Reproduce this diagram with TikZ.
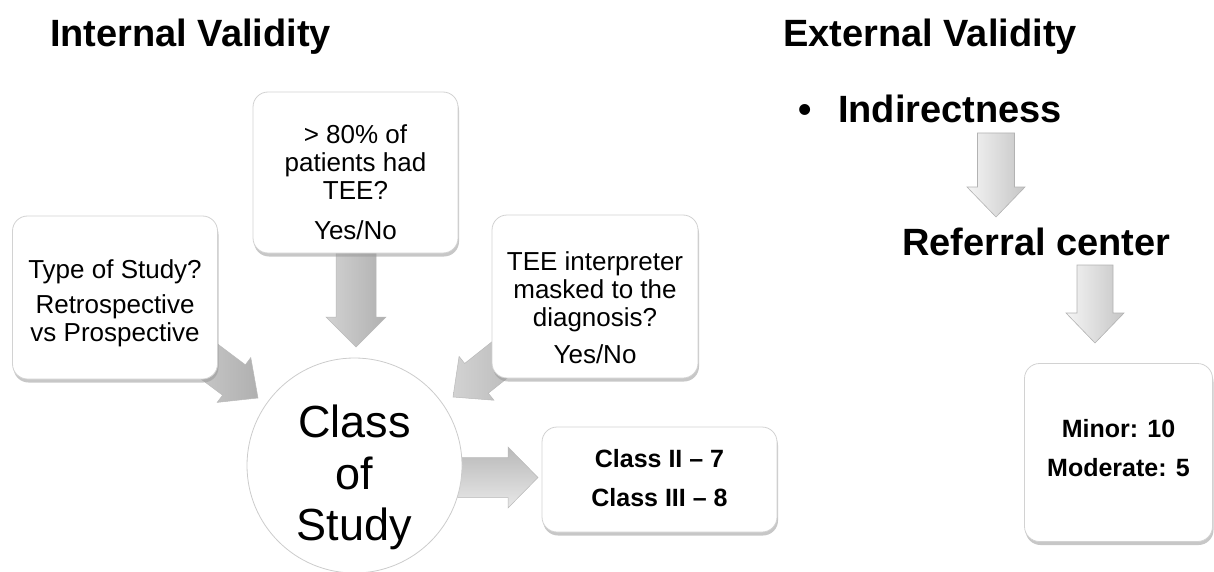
\documentclass[tikz,border=0pt]{standalone}
\usepackage{fontspec}
\setmainfont{Liberation Sans}
\usetikzlibrary{calc,shadows}
\newcommand\fsz[2]{\fontsize{#1}{#2}\selectfont}
% block arrow: [style] {start}{end}{half shaft}{half head}{head length}
\newcommand\fatarrow[6][]{%
  \path[#1] let \p1=(#2), \p2=(#3),
     \n1={atan2(\y2-\y1,\x2-\x1)},
     \n2={veclen(\x2-\x1,\y2-\y1)-#6} in
   (\p1) -- ++(\n1+90:#4pt) -- ++(\n1:\n2*1pt) -- ++(\n1+90:#5pt-#4pt) -- (\p2)
   -- ($(\p1)+(\n1:\n2*1pt)+(\n1-90:#5pt)$) -- ++(\n1+90:#5pt-#4pt) -- ++(\n1+180:\n2*1pt) -- cycle;}
\begin{document}
\begin{tikzpicture}[x=1pt,y=-1pt,
  box/.style={draw=gray!35, line width=0.8pt, fill=white, rounded corners=15pt,
     inner sep=0pt,
     drop shadow={shadow xshift=1pt, shadow yshift=-3.5pt, fill=gray!80, opacity=0.55}},
  title/.style={anchor=base west, font=\bfseries\fsz{38}{40}, inner sep=0pt},
  qtext/.style={font=\fsz{26}{28}, align=center, inner sep=0pt},
  btext/.style={font=\bfseries\fsz{25}{39}, align=center, inner sep=0pt},
  darkarrow/.style={left color=gray!35, right color=gray!62, draw=gray!55, line width=0.5pt},
  darkarrowh/.style={top color=gray!55, bottom color=gray!18, draw=gray!55, line width=0.5pt},
  lightarrow/.style={left color=gray!8, right color=gray!45, draw=gray!60, line width=0.6pt}]
\useasboundingbox (0,0) rectangle (1214,572);

% titles
\node[title] (tin) at (50,47) {Internal Validity};
\node[title] (tex) at (783,47) {External Validity};

% arrow coordinates
\coordinate (a1s) at (178,338);  \coordinate (a1e) at (258,398);
\coordinate (a2s) at (356,240);  \coordinate (a2e) at (356,347);
\coordinate (a3s) at (531,335);  \coordinate (a3e) at (453,397);
\coordinate (a4s) at (440,477.5);\coordinate (a4e) at (538,477.5);
\coordinate (a5s) at (996,133);  \coordinate (a5e) at (996,217);
\coordinate (a6s) at (1095,265); \coordinate (a6e) at (1095,343);

% block arrows (drawn beneath the boxes)
\fatarrow[darkarrow]{a1s}{a1e}{19}{28}{30}
\fatarrow[darkarrow]{a2s}{a2e}{20}{30}{30}
\fatarrow[darkarrow]{a3s}{a3e}{19}{28}{30}
\fatarrow[darkarrowh]{a4s}{a4e}{20}{30.5}{30}
\fatarrow[lightarrow]{a5s}{a5e}{18.5}{29}{30}
\fatarrow[lightarrow]{a6s}{a6e}{18}{29}{30}

% internal validity boxes
\node[box, minimum width=205, minimum height=163] (b1) at (115,297.5) {};
\node[qtext] (b1t) at ($(b1.center)+(0,6)$)
  {Type of Study?\\[7pt]Retrospective\\vs Prospective};
\node[box, minimum width=205, minimum height=161] (b2) at (355.5,172.5) {};
\node[qtext] (b2t) at ($(b2.center)+(0,9.5)$)
  {> 80\% of\\patients had\\TEE?\\[12pt]Yes/No};
\node[box, minimum width=206, minimum height=163] (b3) at (595,296.5) {};
\node[qtext] (b3t) at ($(b3.center)+(0,11)$)
  {TEE interpreter\\masked to the\\diagnosis?\\[9pt]Yes/No};

\node[circle, draw=gray!40, line width=0.8pt, fill=white, minimum size=215,
  inner sep=0pt] (cs) at (354.5,465.5) {};
\node[align=center, inner sep=0pt, font=\fsz{45}{51.5}] (cst) at ($(cs.center)+(0,12)$)
  {Class\\of\\Study};

\node[box, minimum width=235, minimum height=105] (res) at (659.5,479.5) {};
\node[btext] (rest) at ($(res.center)+(0,-1)$) {Class II – 7\\Class III – 8};

% external validity
\node[anchor=base west, font=\bfseries\fsz{38}{40}, inner sep=0pt] (bul) at (798,123) {•};
\node[anchor=base west, font=\bfseries\fsz{38}{40}, inner sep=0pt] (ind) at (838,123) {Indirectness};
\node[anchor=base west, font=\bfseries\fsz{38}{40}, inner sep=0pt] (ref) at (902,255) {Referral center};

\node[box, minimum width=188, minimum height=178] (mm) at (1118.5,452.5) {};
\node[btext] (mmt) at ($(mm.center)+(0,-4)$) {Minor: 10\\Moderate: 5};
\end{tikzpicture}
\end{document}
